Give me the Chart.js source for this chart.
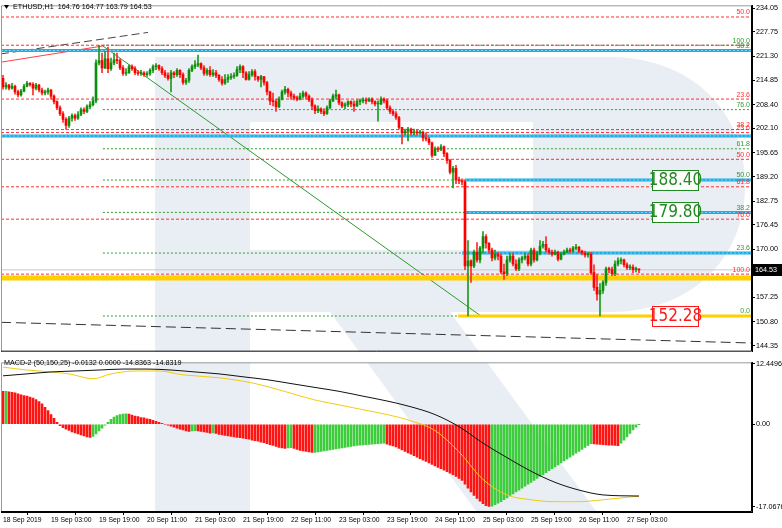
<!DOCTYPE html>
<html>
<head>
<meta charset="utf-8">
<script src="https://cdn.jsdelivr.net/npm/chart.js@4.4.0/dist/chart.umd.min.js"></script>
<style>
html, body { margin: 0; padding: 0; background: #fff; }
#wrap { position: relative; width: 782px; height: 528px; overflow: hidden; }
#price { position: absolute; left: 0; top: 0; }
#macd { position: absolute; left: 0; top: 357px; }
</style>
</head>
<body>
<div id="wrap">
  <canvas id="price" width="782" height="357"></canvas>
  <canvas id="macd" width="782" height="171"></canvas>
</div>
<script>
// ETHUSD H1 candles, 18 Sep 11:00 .. 27 Sep 07:00 (one value per hour)
var opens = [215.4,213.1,213.6,212.8,213.3,211.8,211.0,212.0,213.3,214.1,
213.8,212.8,213.6,212.3,211.5,211.8,212.3,210.7,209.2,207.6,
206.0,204.5,202.9,204.8,205.5,204.8,205.8,207.1,206.6,207.9,
208.4,209.4,219.5,220.1,218.2,220.6,218.0,219.5,220.3,220.1,
218.2,216.7,216.9,218.5,218.0,216.9,216.7,216.9,216.4,216.7,
217.5,218.5,218.8,218.0,216.9,216.2,215.4,216.9,216.4,217.5,
216.4,214.3,214.9,217.5,218.5,219.0,219.3,218.2,216.7,217.5,
216.4,216.9,216.2,215.1,214.1,215.1,215.6,215.9,216.2,217.7,
218.5,216.9,215.1,216.4,217.2,215.9,215.1,215.9,214.3,211.8,
209.4,209.2,207.9,209.9,211.8,212.5,211.5,210.7,210.2,209.9,
210.7,211.5,210.7,209.7,208.1,206.8,207.3,206.6,206.0,207.6,
209.4,210.7,211.0,208.9,208.1,208.4,209.2,208.6,208.1,209.2,
209.4,209.7,209.4,209.9,209.2,208.6,208.6,209.9,209.4,207.6,
206.6,206.0,205.0,202.4,200.9,201.4,201.9,200.9,201.1,200.9,
201.1,199.6,199.3,198.3,194.9,196.7,196.5,197.2,195.4,193.6,
190.5,191.5,188.4,188.2,187.9,165.6,166.9,165.6,169.2,167.2,
170.3,173.4,171.6,169.8,167.7,168.7,168.2,164.0,163.5,167.2,
168.2,166.1,164.8,167.2,167.7,168.2,166.1,169.8,167.2,169.0,
170.8,171.3,169.8,169.2,168.7,169.2,167.4,168.7,169.2,169.8,
169.5,170.3,170.5,169.5,169.0,168.5,168.7,163.8,159.9,158.1,
159.1,161.2,164.8,164.6,163.5,166.1,166.9,167.2,165.9,165.1,
165.3,164.6,164.76];
var highs = [216.2,214.3,213.8,214.1,213.6,212.3,212.5,213.8,214.6,214.3,
214.3,214.1,213.8,212.8,212.3,212.8,212.5,211.0,209.4,208.1,
206.6,205.0,205.3,206.0,206.0,206.6,207.6,207.6,208.4,209.2,
210.5,220.3,224.2,222.1,222.6,223.7,220.8,222.1,222.1,220.6,
218.8,218.0,219.0,219.0,218.5,217.5,217.5,217.2,217.2,218.0,
219.0,219.3,219.0,218.5,217.5,216.9,217.5,217.2,218.0,217.7,
216.9,215.4,218.0,219.0,220.1,221.6,219.5,218.8,218.0,218.5,
217.7,217.5,216.4,215.9,216.4,216.4,216.7,216.9,218.5,219.0,
218.8,217.2,217.2,217.7,217.7,215.9,216.2,215.9,214.6,212.0,
211.5,209.9,210.5,212.3,213.3,212.8,212.0,211.2,210.7,211.5,
212.0,211.8,211.0,210.2,208.4,208.1,207.6,207.3,208.1,209.9,
211.2,212.3,211.2,209.2,208.9,209.4,209.4,209.4,209.7,209.9,
210.2,210.2,210.2,210.2,209.4,209.4,210.5,210.2,209.9,208.1,
207.1,206.6,205.3,202.4,201.9,202.4,202.2,201.9,201.6,201.6,
201.4,200.9,199.8,198.5,197.2,197.2,197.8,197.5,195.7,193.9,
192.0,192.3,189.2,188.7,188.4,172.3,167.2,169.8,171.8,170.8,
174.7,173.9,171.8,170.3,169.8,169.2,168.7,166.1,168.2,169.0,
169.0,167.2,167.7,168.2,169.0,168.7,170.3,170.3,169.5,172.3,
172.1,173.4,170.3,169.8,169.8,169.5,169.2,169.8,170.3,170.3,
170.8,171.3,170.8,169.8,169.5,169.2,169.2,165.9,163.3,160.9,
161.7,165.3,165.3,165.3,166.9,167.7,167.7,167.4,166.4,165.9,
165.9,165.3,164.77];
var lows = [212.5,212.5,212.3,212.5,211.2,210.5,210.7,211.8,213.1,213.3,
211.0,212.3,211.8,211.0,211.0,211.2,209.9,208.6,207.1,205.5,
203.7,201.9,202.4,204.0,204.2,204.5,205.5,206.0,206.3,207.3,
208.1,208.9,219.0,216.9,218.0,216.9,217.5,219.0,219.3,217.7,
216.2,216.2,216.7,217.5,216.4,216.2,216.2,215.9,215.9,216.2,
216.9,217.7,217.5,216.4,215.6,214.9,211.8,215.6,215.9,215.6,
213.8,213.8,214.3,217.2,218.0,218.5,217.7,216.2,216.2,215.9,
215.9,215.6,214.6,213.6,213.8,214.3,215.1,215.4,215.9,216.9,
215.6,214.9,214.9,215.9,214.9,214.6,213.1,213.6,211.0,208.4,
208.1,206.6,207.6,209.7,211.2,210.5,209.9,209.7,209.4,209.7,
210.2,209.9,209.2,207.1,206.0,206.3,206.0,205.5,205.8,207.3,
209.2,209.9,208.4,207.6,207.3,207.9,207.9,206.6,207.9,208.4,
208.9,208.6,209.2,208.6,208.1,204.0,208.4,208.9,207.1,206.0,
205.5,204.5,201.9,198.0,200.3,198.8,200.3,200.3,200.3,200.6,
198.8,198.8,197.8,194.4,195.2,195.9,196.2,194.6,192.8,190.0,
186.3,187.4,187.4,187.1,164.6,152.28,161.2,165.1,166.6,166.4,
169.0,170.3,169.0,166.9,167.2,167.2,163.5,162.0,163.0,166.6,
165.6,164.3,164.3,166.4,167.2,165.6,165.6,166.6,166.9,168.5,
170.3,169.2,168.7,168.2,168.5,166.9,167.2,168.5,169.0,169.0,
169.2,169.8,169.0,168.5,167.9,167.9,163.3,159.1,156.5,152.28,
158.3,160.4,163.8,163.0,163.0,165.6,166.1,165.3,164.6,164.6,
163.8,164.0,163.79];
var closes = [213.1,213.6,212.8,213.3,211.8,211.0,212.0,213.3,214.1,213.8,
212.8,213.6,212.3,211.5,211.8,212.3,210.7,209.2,207.6,206.0,
204.5,202.9,204.8,205.5,204.8,205.8,207.1,206.6,207.9,208.4,
209.4,219.5,220.1,218.2,220.6,218.0,219.5,220.3,220.1,218.2,
216.7,216.9,218.5,218.0,216.9,216.7,216.9,216.4,216.7,217.5,
218.5,218.8,218.0,216.9,216.2,215.4,216.9,216.4,217.5,216.4,
214.3,214.9,217.5,218.5,219.0,219.3,218.2,216.7,217.5,216.4,
216.9,216.2,215.1,214.1,215.1,215.6,215.9,216.2,217.7,218.5,
216.9,215.1,216.4,217.2,215.9,215.1,215.9,214.3,211.8,209.4,
209.2,207.9,209.9,211.8,212.5,211.5,210.7,210.2,209.9,210.7,
211.5,210.7,209.7,208.1,206.8,207.3,206.6,206.0,207.6,209.4,
210.7,211.0,208.9,208.1,208.4,209.2,208.6,208.1,209.2,209.4,
209.7,209.4,209.9,209.2,208.6,208.6,209.9,209.4,207.6,206.6,
206.0,205.0,202.4,200.9,201.4,201.9,200.9,201.1,200.9,201.1,
199.6,199.3,198.3,194.9,196.7,196.5,197.2,195.4,193.6,190.5,
191.5,188.4,188.2,187.9,165.6,166.9,165.6,169.2,167.2,170.3,
173.4,171.6,169.8,167.7,168.7,168.2,164.0,163.5,167.2,168.2,
166.1,164.8,167.2,167.7,168.2,166.1,169.8,167.2,169.0,170.8,
171.3,169.8,169.2,168.7,169.2,167.4,168.7,169.2,169.8,169.5,
170.3,170.5,169.5,169.0,168.5,168.7,163.8,159.9,158.1,159.1,
161.2,164.8,164.6,163.5,166.1,166.9,167.2,165.9,165.1,165.3,
164.6,164.8,164.53];

// MACD-2 (50,150,25) histogram, one per candle
var macdHist = [6.8,6.8,6.7,6.6,6.5,6.3,6.1,5.9,5.8,5.6,
5.4,5.1,4.7,4.2,3.5,2.8,2.0,1.2,0.4,-0.3,
-0.7,-1.0,-1.3,-1.6,-1.8,-2.0,-2.2,-2.4,-2.6,-2.7,
-2.5,-2.0,-1.4,-0.8,-0.2,0.4,1.0,1.5,1.8,2.0,
2.1,2.15,2.1,1.9,1.7,1.6,1.4,1.3,1.1,1.0,
0.8,0.6,0.4,0.2,0.0,-0.2,-0.4,-0.6,-0.8,-1.0,
-1.2,-1.4,-1.5,-1.4,-1.35,-1.4,-1.5,-1.6,-1.7,-1.85,
-1.8,-1.9,-2.1,-2.2,-2.3,-2.4,-2.5,-2.6,-2.7,-2.8,
-2.9,-3.0,-3.1,-3.3,-3.4,-3.5,-3.7,-3.8,-4.0,-4.2,
-4.4,-4.6,-4.8,-4.9,-5.0,-4.9,-4.85,-5.0,-5.2,-5.4,
-5.5,-5.6,-5.7,-5.8,-5.8,-5.7,-5.6,-5.5,-5.4,-5.3,
-5.2,-5.1,-5.0,-4.9,-4.8,-4.7,-4.6,-4.5,-4.4,-4.3,
-4.25,-4.2,-4.15,-4.1,-4.05,-4.0,-3.95,-3.9,-4.1,-4.3,
-4.5,-4.7,-5.0,-5.3,-5.6,-5.9,-6.2,-6.5,-6.8,-7.1,
-7.4,-7.7,-8.0,-8.3,-8.6,-8.9,-9.2,-9.5,-9.8,-10.1,
-10.4,-10.8,-11.2,-11.6,-12.4,-13.2,-14.0,-14.7,-15.3,-15.9,
-16.4,-16.8,-17.0,-16.9,-16.6,-16.3,-16.0,-15.6,-15.2,-14.8,
-14.4,-14.0,-13.6,-13.2,-12.8,-12.4,-12.0,-11.6,-11.2,-10.8,
-10.4,-10.0,-9.6,-9.2,-8.8,-8.4,-8.0,-7.6,-7.2,-6.8,
-6.4,-6.0,-5.6,-5.2,-4.8,-4.4,-4.0,-4.05,-4.1,-4.15,
-4.2,-4.25,-4.3,-4.35,-4.4,-4.45,-3.9,-3.3,-2.6,-1.9,
-1.2,-0.6,-0.0132];
var macdMainIdx = [0,8,16,24,32,40,48,56,64,72,80,88,96,104,112,120,128,136,144,152,160,168,176,184,192,200,212];
var macdMain = [10.0,10.4,10.8,11.0,11.2,11.4,11.4,11.2,10.8,10.4,9.8,9.2,8.4,7.6,6.8,5.8,4.8,3.6,2.0,-0.5,-3.9,-6.9,-9.7,-12.0,-13.6,-14.6,-14.8363];
var macdSigIdx = [0,8,16,22,30,36,44,52,60,72,84,96,104,112,120,128,136,144,152,160,168,176,184,192,200,212];
var macdSig = [11.8,11.2,10.8,10.4,9.4,10.4,11.0,11.0,10.2,9.6,8.4,6.4,5.0,4.0,3.0,2.0,0.7,-1.3,-5.7,-11.4,-14.6,-15.6,-16.0,-16.0,-15.6,-14.8319];

// axes
var priceTicks = [234.05,227.75,221.30,214.85,208.40,202.10,195.65,189.20,182.75,176.45,170.00,163.55,157.25,150.80,144.35];
var macdTicks = [12.4496, 0, -17.0676];
var macdTickLabels = ['12.4496', '0.00', '-17.0676'];
var timeTickIdx = [0,16,32,48,64,80,96,112,128,144,160,176,192,208];
var timeTickLabels = ['18 Sep 2019','19 Sep 03:00','19 Sep 19:00','20 Sep 11:00','21 Sep 03:00','21 Sep 19:00','22 Sep 11:00','23 Sep 03:00','23 Sep 19:00','24 Sep 11:00','25 Sep 03:00','25 Sep 19:00','26 Sep 11:00','27 Sep 03:00'];

// drawn objects (price, start bar)
var redLevels = [231.7,224.2,209.9,201.8,201.0,193.9,186.6,178.0,163.4];
var redLevelText = ['50.0','','23.6','38.2','23.6','50.0','61.8','76.0','100.0'];
var greenLevels = [224.2,222.8,207.1,196.7,188.4,179.8,169.0,152.28];
var greenLevelText = ['100.0','38.2','76.0','61.8','50.0','38.2','23.6','0.0'];
var greenFrom = 33.3;
var blueLevels = [222.8,200.1,188.4,179.8,169.0];
var blueFrom = [-0.7,-0.7,154,154,153];
var yellowLevels = [162.4,152.28];
var yellowFrom = [-0.7,151.7];
var targetLevels = [188.4,179.8,152.28];
var targetText = ['188.40','179.80','152.28'];
var lastPrice = 164.53;
var headerText = 'ETHUSD,H1  164.76 164.77 163.79 164.53';
var macdHeader = 'MACD-2 (50,150,25) -0.0132 0.0000 -14.8363 -14.8319';
var blackTrendTop = [{x: -0.7, y: 221.9}, {x: 48.3, y: 227.6}];
var redTrend = [{x: -0.7, y: 219.7}, {x: 33.3, y: 224.0}];
var greenTrend = [{x: 33.3, y: 224.0}, {x: 159.3, y: 152.28}];
var blackTrendLow = [{x: -0.7, y: 150.6}, {x: 249.7, y: 145.1}];

var X_MIN = -0.67, X_MAX = 249.67;
var SMALL = '7.2px "Liberation Sans", Arial, sans-serif';

function hline(level, from, color, width, dash, order) {
    return {
        type: 'line',
        data: [{x: from, y: level}, {x: X_MAX, y: level}],
        borderColor: color, borderWidth: width, borderDash: dash || [],
        pointRadius: 0, fill: false, order: order
    };
}
function seg(points, color, width, dash, order) {
    return {
        type: 'line', data: points, borderColor: color, borderWidth: width,
        borderDash: dash || [], pointRadius: 0, fill: false, order: order
    };
}

// RoboForex style "R" watermark, page coordinates
var watermark = {
    id: 'wm',
    beforeDatasetsDraw: function (chart, args, opts) {
        var ctx = chart.ctx, a = chart.chartArea;
        ctx.save();
        ctx.beginPath();
        ctx.rect(a.left, a.top, a.right - a.left, a.bottom - a.top);
        ctx.clip();
        ctx.translate(0, -opts.top);
        ctx.fillStyle = '#e9edf4';
        ctx.fillRect(155, 57, 95, 480);
        ctx.beginPath();
        ctx.moveTo(250, 57);
        ctx.lineTo(610, 57);
        ctx.bezierCurveTo(690, 57, 745, 110, 745, 185);
        ctx.bezierCurveTo(745, 260, 690, 312, 610, 312);
        ctx.lineTo(250, 312);
        ctx.closePath();
        ctx.fill();
        ctx.beginPath();
        ctx.moveTo(330, 312);
        ctx.lineTo(450, 312);
        ctx.lineTo(610, 530);
        ctx.lineTo(490, 530);
        ctx.closePath();
        ctx.fill();
        ctx.fillStyle = '#ffffff';
        ctx.fillRect(250, 122, 283, 128);
        ctx.restore();
    }
};

function frame(chart) {
    var ctx = chart.ctx, a = chart.chartArea;
    ctx.save();
    ctx.strokeStyle = '#9a9a9a';
    ctx.lineWidth = 1;
    ctx.beginPath();
    ctx.moveTo(a.left + 0.5, a.bottom);
    ctx.lineTo(a.left + 0.5, a.top + 0.5);
    ctx.lineTo(a.right, a.top + 0.5);
    ctx.stroke();
    ctx.strokeStyle = '#000';
    ctx.beginPath();
    ctx.moveTo(a.left, a.bottom - 0.5);
    ctx.lineTo(a.right - 0.5, a.bottom - 0.5);
    ctx.lineTo(a.right - 0.5, a.top);
    ctx.stroke();
    ctx.restore();
}

var priceLabels = {
    id: 'priceLabels',
    afterDatasetsDraw: function (chart) {
        var ctx = chart.ctx, a = chart.chartArea, y = chart.scales.y;
        ctx.save();
        ctx.font = '7px "Liberation Sans", Arial, sans-serif';
        ctx.textAlign = 'right';
        ctx.textBaseline = 'bottom';
        redLevels.forEach(function (v, i) {
            if (!redLevelText[i]) return;
            ctx.fillStyle = '#ff3030';
            ctx.fillText(redLevelText[i], a.right - 2, y.getPixelForValue(v) - 1);
        });
        greenLevels.forEach(function (v, i) {
            ctx.fillStyle = '#2f9a2f';
            ctx.fillText(greenLevelText[i], a.right - 2, y.getPixelForValue(v) - 1);
        });
        // target boxes
        ctx.font = '17px "Liberation Sans Narrow", "DejaVu Sans Condensed", Arial, sans-serif';
        ctx.textAlign = 'center';
        ctx.textBaseline = 'middle';
        targetLevels.forEach(function (v, i) {
            var py = Math.round(y.getPixelForValue(v));
            var col = i < 2 ? '#208a20' : '#ff1a1a';
            var bx = a.right - 100, bw = 46, bh = 20;
            ctx.fillStyle = '#ffffff';
            ctx.fillRect(bx, py - bh / 2, bw, bh);
            ctx.strokeStyle = col;
            ctx.lineWidth = 1;
            ctx.strokeRect(bx + 0.5, py - bh / 2 + 0.5, bw, bh);
            ctx.fillStyle = col;
            ctx.fillText(targetText[i], bx + bw / 2 + 0.5, py + 1);
        });
        ctx.restore();
    },
    afterDraw: function (chart) {
        var ctx = chart.ctx, a = chart.chartArea, y = chart.scales.y;
        frame(chart);
        ctx.save();
        // bid tag on the price axis
        var py = Math.round(y.getPixelForValue(lastPrice));
        ctx.fillStyle = '#000';
        ctx.fillRect(a.right + 1, py - 6, 782 - a.right, 12);
        ctx.fillStyle = '#fff';
        ctx.font = SMALL;
        ctx.textAlign = 'left';
        ctx.textBaseline = 'middle';
        ctx.fillText(lastPrice.toFixed(2), a.right + 3, py);
        // header
        ctx.fillStyle = '#000';
        ctx.beginPath();
        ctx.moveTo(4, 5); ctx.lineTo(9, 5); ctx.lineTo(6.5, 9); ctx.closePath();
        ctx.fill();
        ctx.fillText(headerText, 13, 7);
        ctx.restore();
    }
};

var macdLabels = {
    id: 'macdLabels',
    afterDraw: function (chart) {
        var ctx = chart.ctx;
        frame(chart);
        ctx.save();
        ctx.font = SMALL;
        ctx.fillStyle = '#000';
        ctx.textBaseline = 'middle';
        ctx.fillText(macdHeader, 4, 6);
        ctx.restore();
    }
};

var isUp = closes.map(function (c, i) { return c >= opens[i]; });
var wickData = highs.map(function (h, i) {
    return {x: i, y: [Math.min(lows[i], opens[i], closes[i]), Math.max(h, opens[i], closes[i])]};
});
var bodyData = opens.map(function (o, i) { return {x: i, y: [o, closes[i]]}; });

var priceSets = [
    {type: 'bar', data: bodyData, backgroundColor: isUp.map(function (u) { return u ? '#0c8f0c' : '#ff0000'; }),
     barThickness: 2, minBarLength: 1, grouped: false, order: 0},
    {type: 'bar', data: wickData, backgroundColor: isUp.map(function (u) { return u ? '#1e9a1e' : '#ff2a2a'; }),
     barThickness: 1, grouped: false, order: 1}
];
blueLevels.forEach(function (v, i) {
    priceSets.push(hline(v, blueFrom[i], '#1daee6', 3, [], 3));
    priceSets.push(hline(v, blueFrom[i], '#7fd2f2', 1, [2, 2], 2));
});
priceSets.push(hline(yellowLevels[0], yellowFrom[0], '#ffd000', 5, [], 3));
priceSets.push(hline(yellowLevels[1], yellowFrom[1], '#ffd000', 3, [], 3));
redLevels.forEach(function (v) { priceSets.push(hline(v, X_MIN, '#ff3030', 1, [3, 2], 4)); });
greenLevels.forEach(function (v) { priceSets.push(hline(v, greenFrom, '#33a033', 1, [2, 2], 4)); });
priceSets.push(hline(lastPrice, X_MIN, '#c8c8c8', 1, [], 5));
priceSets.push(seg(blackTrendTop, '#444', 1, [8, 4], 4));
priceSets.push(seg(redTrend, '#ff4040', 1, [], 4));
priceSets.push(seg(greenTrend, '#2e9a2e', 1, [], 4));
priceSets.push(seg(blackTrendLow, '#333', 1, [10, 5], 4));

var priceChart = new Chart(document.getElementById('price'), {
    type: 'bar',
    data: {datasets: priceSets},
    options: {
        responsive: false, animation: false, devicePixelRatio: 1,
        layout: {padding: {left: 1, top: 1, bottom: 1, right: 0}},
        plugins: {legend: {display: false}, tooltip: {enabled: false}, wm: {top: 0}},
        scales: {
            x: {type: 'linear', min: X_MIN, max: X_MAX, offset: false, display: false},
            y: {
                position: 'right', min: 142.8, max: 234.8,
                afterFit: function (s) { s.width = 30; },
                afterBuildTicks: function (s) { s.ticks = priceTicks.map(function (v) { return {value: v}; }); },
                ticks: {callback: function (v) { return v.toFixed(2); }, color: '#000', padding: 1,
                        font: {family: 'Liberation Sans', size: 7.2}},
                grid: {drawOnChartArea: false, tickLength: 3, color: '#000'},
                border: {color: '#000'}
            }
        }
    },
    plugins: [watermark, priceLabels]
});

var histColors = macdHist.map(function (v, i) {
    if (i === 0) return '#ff1414';
    return v >= macdHist[i - 1] ? '#3ccc3c' : '#ff1414';
});

var macdChart = new Chart(document.getElementById('macd'), {
    type: 'bar',
    data: {
        datasets: [
            {type: 'line', data: macdMainIdx.map(function (x, i) { return {x: x, y: macdMain[i]}; }),
             borderColor: '#111', borderWidth: 1, pointRadius: 0, cubicInterpolationMode: 'monotone', order: 0},
            {type: 'line', data: macdSigIdx.map(function (x, i) { return {x: x, y: macdSig[i]}; }),
             borderColor: '#f2cc10', borderWidth: 1, pointRadius: 0, cubicInterpolationMode: 'monotone', order: 1},
            {type: 'bar', data: macdHist.map(function (v, i) { return {x: i, y: v}; }),
             backgroundColor: histColors, barThickness: 2, grouped: false, order: 2}
        ]
    },
    options: {
        responsive: false, animation: false, devicePixelRatio: 1,
        layout: {padding: {left: 1, top: 1, bottom: 0, right: 0}},
        plugins: {legend: {display: false}, tooltip: {enabled: false}, wm: {top: 357}},
        scales: {
            x: {
                type: 'linear', min: X_MIN, max: X_MAX, offset: false,
                afterFit: function (s) { s.height = 16; },
                afterBuildTicks: function (s) { s.ticks = timeTickIdx.map(function (v) { return {value: v}; }); },
                ticks: {callback: function (v, i) { return timeTickLabels[i]; }, align: 'start', autoSkip: false,
                        maxRotation: 0, minRotation: 0, color: '#000', padding: 1,
                        font: {family: 'Liberation Sans', size: 6.8}},
                grid: {drawOnChartArea: false, tickLength: 3, color: '#000'},
                border: {color: '#000'}
            },
            y: {
                position: 'right', min: -18.13, max: 12.79,
                afterFit: function (s) { s.width = 30; },
                afterBuildTicks: function (s) { s.ticks = macdTicks.map(function (v) { return {value: v}; }); },
                ticks: {callback: function (v, i) { return macdTickLabels[i]; }, color: '#000', padding: 1,
                        font: {family: 'Liberation Sans', size: 7.2}},
                grid: {drawOnChartArea: false, tickLength: 3, color: '#000'},
                border: {color: '#000'}
            }
        }
    },
    plugins: [watermark, macdLabels]
});
</script>
</body>
</html>
